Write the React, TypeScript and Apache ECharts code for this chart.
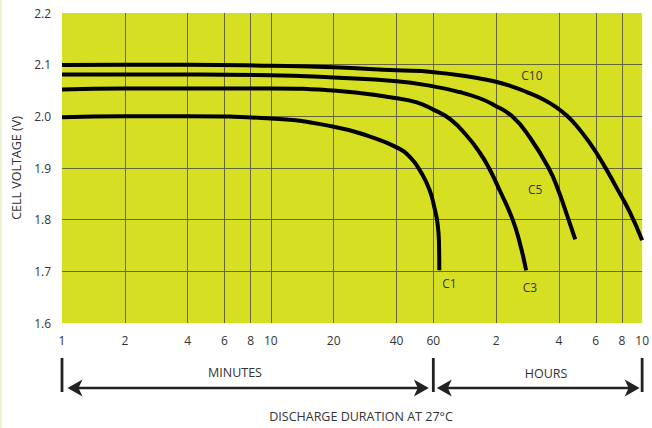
import React, { useEffect, useRef } from "react";
import * as echarts from "echarts";

// Axis ticks (minutes on a log scale; hours after 60 min)
const xTickMinutes = [1, 2, 4, 6, 8, 10, 20, 40, 60, 120, 240, 360, 480, 600];
const xTickLabels = ["1", "2", "4", "6", "8", "10", "20", "40", "60", "2", "4", "6", "8", "10"];
const xGridMinutes = [2, 4, 6, 8, 10, 20, 40, 60, 120, 240, 360, 480];
const yTickValues = [1.6, 1.7, 1.8, 1.9, 2.0, 2.1, 2.2];
const yGridValues = [1.7, 1.8, 1.9, 2.0, 2.1];

// Discharge curves: time (minutes) and cell voltage (V)
const c10Minutes = [1, 2, 4, 10, 20, 40, 59, 97.5, 117, 140, 168, 201, 234, 262, 292, 336, 389, 451, 523, 600];
const c10Volts = [2.0995, 2.1, 2.1, 2.098, 2.095, 2.089, 2.086, 2.074, 2.068, 2.059, 2.047, 2.033, 2.017, 2.001, 1.981, 1.949, 1.909, 1.863, 1.815, 1.76];

const c5Minutes = [1, 2, 10, 20, 40, 60, 80, 100, 117, 144, 174, 214, 238, 266, 287];
const c5Volts = [2.081, 2.081, 2.0795, 2.075, 2.068, 2.058, 2.047, 2.035, 2.022, 1.999, 1.959, 1.9, 1.857, 1.801, 1.762];

const c3Minutes = [1, 2, 10, 20, 40, 50, 60, 72.5, 87, 100, 110.5, 125, 143, 155, 167];
const c3Volts = [2.052, 2.054, 2.054, 2.05, 2.035, 2.027, 2.013, 1.994, 1.962, 1.93, 1.901, 1.856, 1.803, 1.758, 1.702];

const c1Minutes = [1, 2, 4, 10, 20, 29.2, 40.5, 46.9, 52.3, 57.4, 60.6, 62.9, 63.9, 64.1];
const c1Volts = [1.998, 2.0, 2.0, 1.996, 1.98, 1.962, 1.939, 1.919, 1.892, 1.859, 1.825, 1.792, 1.752, 1.702];

const seriesNames = ["C10", "C5", "C3", "C1"];
// label anchors (minutes, volts)
const labelMinutes = [178, 184.5, 174, 71.6];
const labelVolts = [2.079, 1.8586, 1.6695, 1.676];

const FONT = "'Open Sans', 'Noto Sans', sans-serif";
const TEXT = "#333333";

const toData = (mins: number[], volts: number[]) =>
  mins.map((m, i) => [Math.log10(m), volts[i]]);

const labelFor = (v: number) => {
  for (let i = 0; i < xTickMinutes.length; i++) {
    if (Math.abs(Math.log10(xTickMinutes[i]) - v) < 1e-6) return xTickLabels[i];
  }
  return "";
};

export default function App() {
  const ref = useRef<HTMLDivElement>(null);

  useEffect(() => {
    document.body.style.margin = "0";
    if (!ref.current) return;
    const chart = echarts.init(ref.current, null, { renderer: "svg" });

    const curves = [
      toData(c10Minutes, c10Volts),
      toData(c5Minutes, c5Volts),
      toData(c3Minutes, c3Volts),
      toData(c1Minutes, c1Volts),
    ];

    chart.setOption({
      animation: false,
      textStyle: { fontFamily: FONT },
      grid: {
        left: 62,
        right: 6,
        top: 13,
        bottom: 105,
        show: true,
        backgroundColor: "#d7df22",
        borderWidth: 0,
      },
      xAxis: {
        type: "value",
        min: 0,
        max: Math.log10(600),
        axisLine: { show: false },
        axisTick: { show: false, customValues: xGridMinutes.map((m) => Math.log10(m)) },
        axisLabel: {
          customValues: xTickMinutes.map((m) => Math.log10(m)),
          formatter: (v: number) => labelFor(v),
          color: TEXT,
          fontSize: 12,
          fontFamily: FONT,
          margin: 11,
        },
        splitLine: {
          show: true,
          lineStyle: { color: "#66653f", width: 1 },
        },
      },
      yAxis: {
        type: "value",
        min: 1.6,
        max: 2.2,
        name: "CELL VOLTAGE (V)",
        nameLocation: "middle",
        nameGap: 38,
        nameTextStyle: { color: TEXT, fontSize: 12.5, fontFamily: FONT },
        axisLine: { show: false },
        axisTick: { show: false, customValues: yGridValues },
        axisLabel: {
          customValues: yTickValues,
          formatter: (v: number) => v.toFixed(1),
          color: TEXT,
          fontSize: 12,
          fontFamily: FONT,
          margin: 11,
        },
        splitLine: {
          show: true,
          lineStyle: { color: "#66653f", width: 1 },
        },
      },
      series: curves.map((data, i) => ({
        name: seriesNames[i],
        type: "line",
        data,
        symbol: "none",
        smooth: 0.5,
        lineStyle: { color: "#000", width: 4 },
        markPoint: {
          symbol: "circle",
          symbolSize: 0,
          label: {
            show: true,
            position: "inside",
            color: TEXT,
            fontSize: 12,
            fontFamily: FONT,
            formatter: seriesNames[i],
          },
          data: [{ coord: [Math.log10(labelMinutes[i]), labelVolts[i]] }],
        },
      })),
    });

    const px = (m: number) => chart.convertToPixel({ xAxisIndex: 0 }, Math.log10(m)) as number;
    const x1 = px(1);
    const x60 = px(60);
    const x600 = px(600);
    const barTop = 358;
    const barBot = 392;
    const ay = 388;
    const L = 15;
    const H = 8.5;
    const N = 4;
    const head = (tip: number, dir: number) => ({
      type: "polygon",
      shape: {
        points: [
          [tip, ay],
          [tip - dir * L, ay - H],
          [tip - dir * (L - N), ay],
          [tip - dir * L, ay + H],
        ],
      },
      style: { fill: "#222" },
    });
    const bar = (x: number) => ({
      type: "line",
      shape: { x1: x, y1: barTop, x2: x, y2: barBot },
      style: { stroke: "#222", lineWidth: 2.8 },
    });
    const seg = (a: number, b: number) => ({
      type: "line",
      shape: { x1: a, y1: ay, x2: b, y2: ay },
      style: { stroke: "#222", lineWidth: 2.3 },
    });
    const txt = (t: string, x: number, y: number) => ({
      type: "text",
      x,
      y,
      style: {
        text: t,
        fill: TEXT,
        font: `12.5px ${FONT}`,
        align: "center",
        verticalAlign: "middle",
      },
    });

    chart.setOption({
      graphic: [
        { type: "rect", shape: { x: 0, y: 0, width: 2, height: 428 }, style: { fill: "#eef3d2" } },
        bar(x1),
        bar(x60),
        bar(x600),
        seg(x1 + 8, x60 - 8),
        seg(x60 + 7, x600 - 6),
        head(x1 + 5.5, -1),
        head(x60 - 4.5, 1),
        head(x60 + 3.5, -1),
        head(x600 - 2.5, 1),
        txt("MINUTES", 235, 372),
        txt("HOURS", 546, 373),
        txt("DISCHARGE DURATION AT 27°C", 361, 416),
      ],
    });

    return () => chart.dispose();
  }, []);

  return <div ref={ref} style={{ width: 652, height: 428 }} />;
}
